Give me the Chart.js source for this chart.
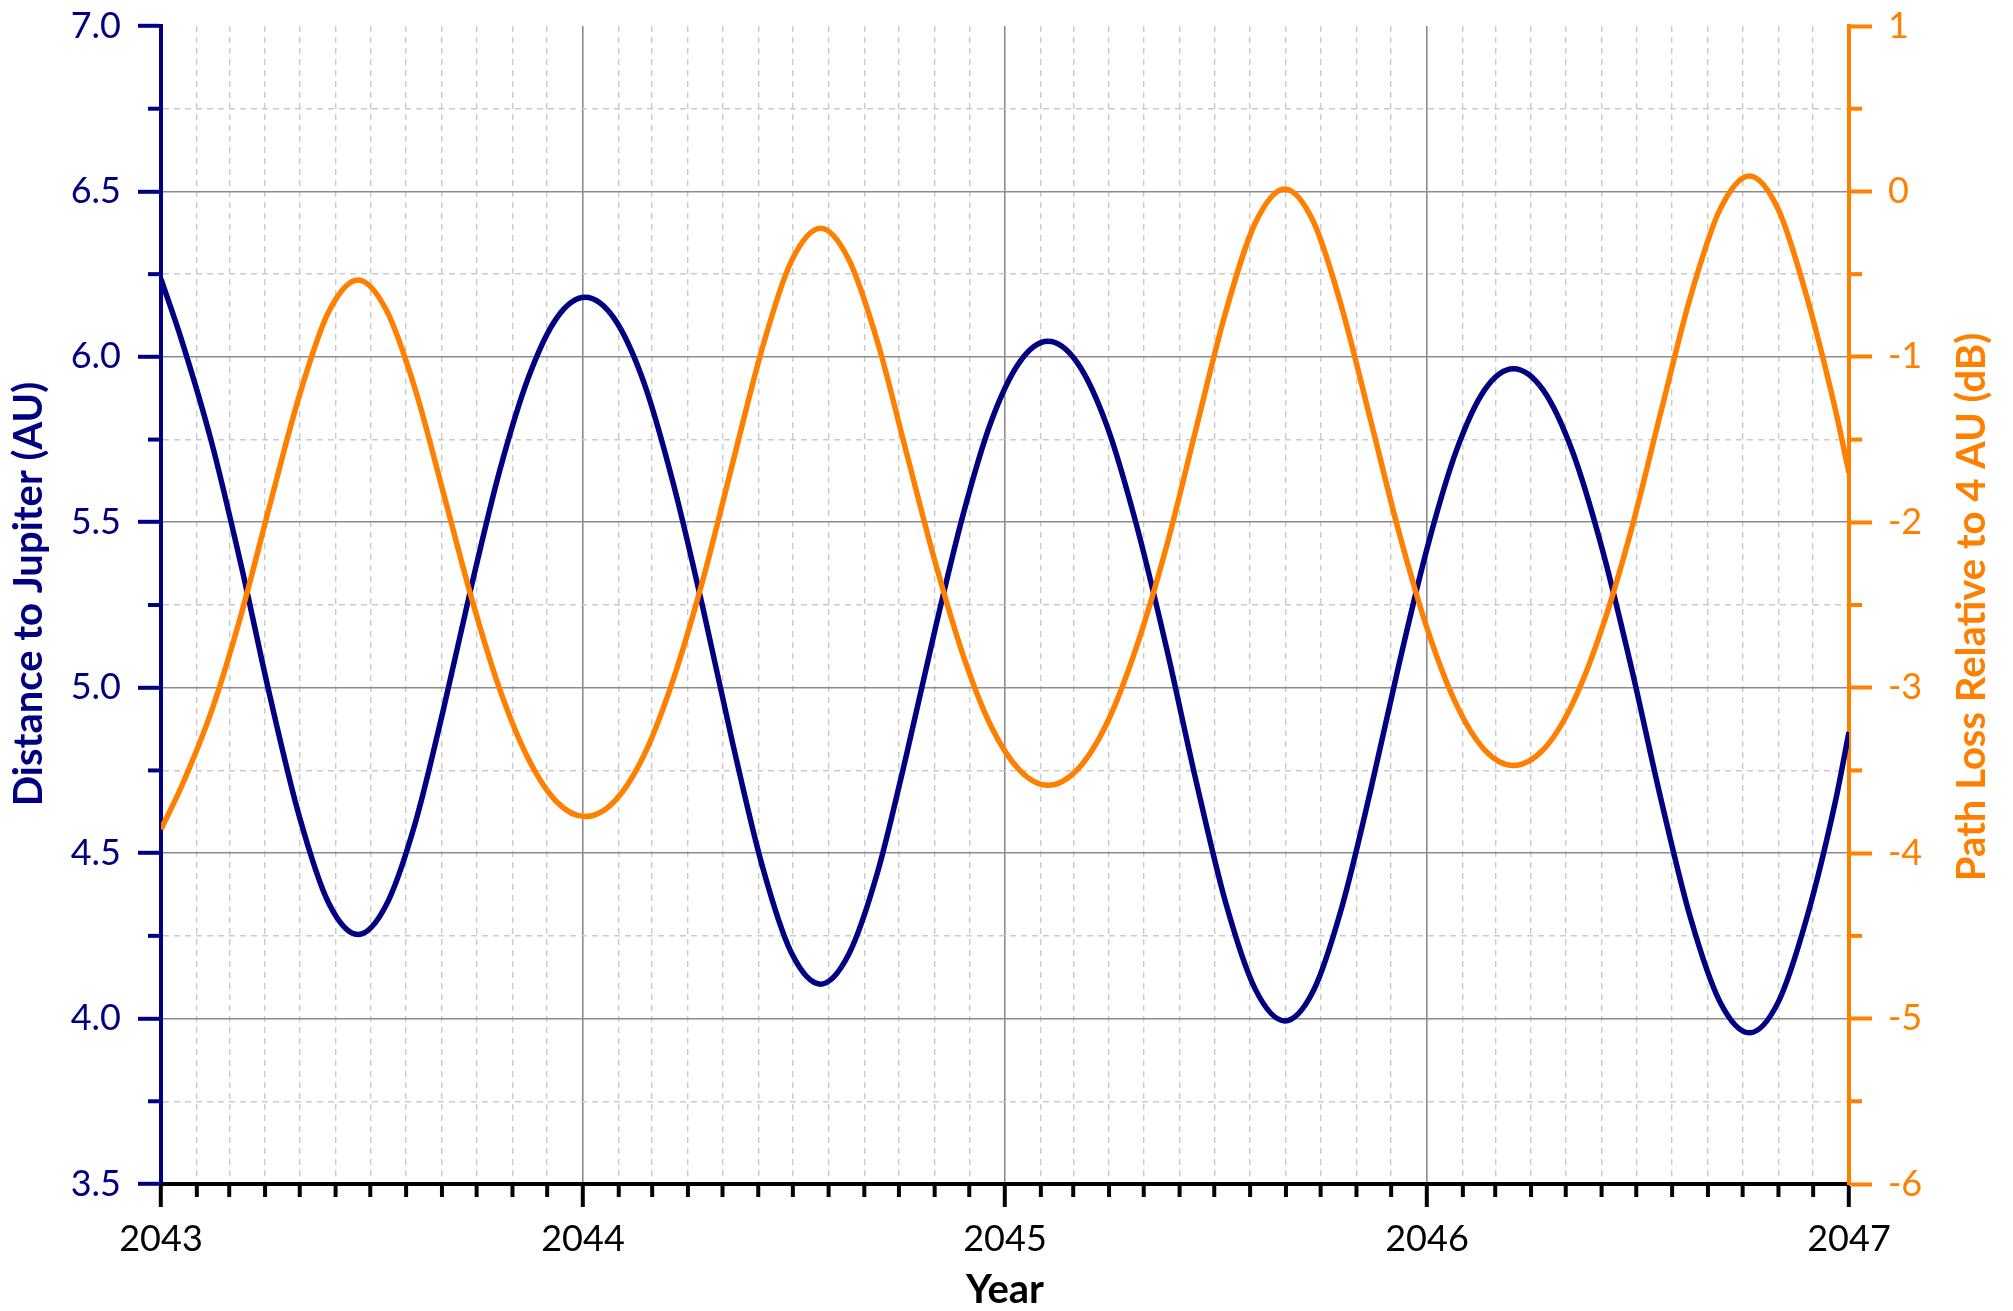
<!DOCTYPE html>
<html>
<head>
<meta charset="utf-8">
<script src="https://cdn.jsdelivr.net/npm/chart.js@4.4.1/dist/chart.umd.min.js"></script>
<style>
html,body{margin:0;padding:0;background:#fff;}
#wrap{width:2013px;height:1311px;}
</style>
</head>
<body>
<div id="wrap"><canvas id="c" width="2013" height="1311"></canvas></div>
<script>
// ---- data ----
const years = [2043.000, 2043.049, 2043.119, 2043.189, 2043.258, 2043.328, 2043.397, 2043.467,
  2043.534, 2043.602, 2043.669, 2043.736, 2043.803, 2043.871, 2043.938, 2044.005,
  2044.075, 2044.145, 2044.214, 2044.284, 2044.354, 2044.424, 2044.493, 2044.563,
  2044.630, 2044.698, 2044.765, 2044.833, 2044.900, 2044.967, 2045.035, 2045.102,
  2045.172, 2045.242, 2045.312, 2045.383, 2045.453, 2045.523, 2045.593, 2045.663,
  2045.731, 2045.798, 2045.866, 2045.934, 2046.002, 2046.070, 2046.137, 2046.205,
  2046.275, 2046.345, 2046.415, 2046.485, 2046.554, 2046.624, 2046.694, 2046.764,
  2046.832, 2046.899, 2046.967, 2047.000];

const distanceAU = [6.235, 6.05, 5.746, 5.375, 4.975, 4.610, 4.350, 4.254,
  4.344, 4.589, 4.933, 5.309, 5.658, 5.939, 6.118, 6.180,
  6.114, 5.920, 5.617, 5.242, 4.836, 4.465, 4.201, 4.104,
  4.195, 4.442, 4.789, 5.169, 5.520, 5.804, 5.985, 6.047,
  5.981, 5.790, 5.490, 5.119, 4.717, 4.350, 4.089, 3.993,
  4.085, 4.336, 4.688, 5.073, 5.430, 5.718, 5.901, 5.964,
  5.900, 5.713, 5.420, 5.057, 4.665, 4.306, 4.051, 3.957,
  4.049, 4.300, 4.652, 4.866];

const pathLossDB = [-3.856, -3.594, -3.146, -2.566, -1.895, -1.233, -0.729, -0.535,
  -0.717, -1.193, -1.821, -2.459, -3.012, -3.433, -3.691, -3.779,
  -3.685, -3.405, -2.949, -2.349, -1.649, -0.955, -0.426, -0.223,
  -0.413, -0.910, -1.564, -2.227, -2.798, -3.233, -3.500, -3.590,
  -3.494, -3.212, -2.750, -2.143, -1.432, -0.729, -0.191, 0.015,
  -0.183, -0.701, -1.379, -2.064, -2.655, -3.104, -3.377, -3.470,
  -3.376, -3.096, -2.639, -2.037, -1.336, -0.640, -0.110, 0.094,
  -0.106, -0.628, -1.312, -1.702];

const xTickLabels = ['2043', '2044', '2045', '2046', '2047'];
const leftTickLabels = ['3.5', '4.0', '4.5', '5.0', '5.5', '6.0', '6.5', '7.0'];
const rightTickLabels = ['-6', '-5', '-4', '-3', '-2', '-1', '0', '1'];
const monthDays = [31, 28, 31, 30, 31, 30, 31, 31, 30, 31, 30, 31];

const NAVY = '#000080';
const ORANGE = '#FF8000';
const FONT = 'Lato, "Open Sans", "DejaVu Sans", sans-serif';
const TRANSP = 'rgba(0,0,0,0)';

const near = (a, b) => Math.abs(a - b) < 1e-6;
const isYear = v => near(v, Math.round(v));
const isHalf = v => near(v * 2, Math.round(v * 2));
const isInt = v => near(v, Math.round(v));

function monthTicks() {
  const t = [];
  for (let y = 2043; y < 2047; y++) {
    const leap = (y % 4 === 0);
    const total = leap ? 366 : 365;
    let d = 0;
    for (let m = 0; m < 12; m++) {
      t.push({ value: y + d / total });
      d += monthDays[m] + (m === 1 && leap ? 1 : 0);
    }
  }
  t.push({ value: 2047 });
  return t;
}
function stepTicks(min, max, step) {
  const t = [];
  const n = Math.round((max - min) / step);
  for (let i = 0; i <= n; i++) t.push({ value: +(min + i * step).toFixed(6) });
  return t;
}

function drawVerticalTitle(ctx, text, color, x, y) {
  ctx.save();
  ctx.fillStyle = color;
  ctx.font = 'bold 40px ' + FONT;
  ctx.textAlign = 'center';
  ctx.textBaseline = 'middle';
  ctx.translate(x, y);
  ctx.rotate(-Math.PI / 2);
  ctx.fillText(text, 0, 0);
  ctx.restore();
}

const minorTickPlugin = {
  id: 'minorTicks',
  afterDraw(chart) {
    const ctx = chart.ctx;
    const sx = chart.scales.x, sy = chart.scales.y, sy2 = chart.scales.y2;
    ctx.save();
    ctx.lineWidth = 4;
    ctx.lineCap = 'butt';
    ctx.strokeStyle = '#000';
    sx.ticks.forEach(t => {
      if (isYear(t.value)) return;
      const x = sx.getPixelForValue(t.value);
      ctx.beginPath(); ctx.moveTo(x, sx.top); ctx.lineTo(x, sx.top + 13); ctx.stroke();
    });
    ctx.strokeStyle = NAVY;
    sy.ticks.forEach(t => {
      if (isHalf(t.value)) return;
      const y = sy.getPixelForValue(t.value);
      ctx.beginPath(); ctx.moveTo(sy.right, y); ctx.lineTo(sy.right - 13, y); ctx.stroke();
    });
    ctx.strokeStyle = ORANGE;
    sy2.ticks.forEach(t => {
      if (isInt(t.value)) return;
      const y = sy2.getPixelForValue(t.value);
      ctx.beginPath(); ctx.moveTo(sy2.left, y); ctx.lineTo(sy2.left + 13, y); ctx.stroke();
    });
    ctx.restore();
    // axis titles (both read bottom to top)
    drawVerticalTitle(ctx, 'Distance to Jupiter (AU)', NAVY, 29, 594);
    drawVerticalTitle(ctx, 'Path Loss Relative to 4 AU (dB)', ORANGE, 1972, 607);
  }
};

new Chart(document.getElementById('c'), {
  type: 'line',
  data: {
    datasets: [
      {
        label: 'Path Loss Relative to 4 AU (dB)',
        data: years.map((x, i) => ({ x: x, y: pathLossDB[i] })),
        yAxisID: 'y2',
        borderColor: ORANGE,
        borderWidth: 5.5,
        pointRadius: 0,
        cubicInterpolationMode: 'monotone',
        fill: false
      },
      {
        label: 'Distance to Jupiter (AU)',
        data: years.map((x, i) => ({ x: x, y: distanceAU[i] })),
        yAxisID: 'y',
        borderColor: NAVY,
        borderWidth: 5.5,
        pointRadius: 0,
        cubicInterpolationMode: 'monotone',
        fill: false
      }
    ]
  },
  options: {
    responsive: false,
    animation: false,
    devicePixelRatio: 1,
    layout: { padding: { top: 26, left: 0, right: 0, bottom: 0 } },
    plugins: { legend: { display: false }, tooltip: { enabled: false } },
    scales: {
      x: {
        type: 'linear', position: 'bottom', min: 2043, max: 2047,
        afterBuildTicks: s => { s.ticks = monthTicks(); },
        afterFit: s => { s.height = 127; s.paddingLeft = 0; s.paddingRight = 0; },
        ticks: {
          autoSkip: false, maxRotation: 0, minRotation: 0, padding: 11, color: '#000',
          font: { family: FONT, size: 36 },
          callback: v => isYear(v) ? xTickLabels[Math.round(v) - 2043] : ''
        },
        grid: {
          color: c => (c.tick && isYear(c.tick.value)) ? '#8c8c8c' : '#cacaca',
          lineWidth: c => (c.tick && isYear(c.tick.value)) ? 1.6 : 1.4,
          tickLength: 23, tickWidth: 4,
          tickColor: c => (c.tick && isYear(c.tick.value)) ? '#000' : TRANSP
        },
        border: {
          display: true, color: '#000', width: 4,
          dash: c => (c.tick && !isYear(c.tick.value)) ? [6, 5] : []
        },
        title: {
          display: true, text: 'Year', color: '#000',
          font: { family: FONT, size: 40, weight: 'bold', lineHeight: 1 },
          padding: { top: 0, bottom: 1 }
        }
      },
      y: {
        type: 'linear', position: 'left', min: 3.5, max: 7,
        afterBuildTicks: s => { s.ticks = stepTicks(3.5, 7, 0.25); },
        afterFit: s => { s.width = 161; s.paddingTop = 0; s.paddingBottom = 0; },
        ticks: {
          autoSkip: false, padding: 17, color: NAVY,
          font: { family: FONT, size: 36 },
          callback: v => isHalf(v) ? leftTickLabels[Math.round((v - 3.5) * 2)] : ''
        },
        grid: {
          color: c => {
            if (!c.tick) return '#8c8c8c';
            if (c.tick.value > 6.99) return TRANSP;
            return isHalf(c.tick.value) ? '#8c8c8c' : '#cacaca';
          },
          lineWidth: c => (c.tick && isHalf(c.tick.value)) ? 1.6 : 1.4,
          tickLength: 23, tickWidth: 4,
          tickColor: c => (c.tick && isHalf(c.tick.value)) ? NAVY : TRANSP
        },
        border: {
          display: true, color: NAVY, width: 4,
          dash: c => (c.tick && !isHalf(c.tick.value)) ? [6, 5] : []
        },
        title: { display: false }
      },
      y2: {
        type: 'linear', position: 'right', min: -6, max: 1,
        afterBuildTicks: s => { s.ticks = stepTicks(-6, 1, 0.5); },
        afterFit: s => { s.width = 164; s.paddingTop = 0; s.paddingBottom = 0; },
        ticks: {
          autoSkip: false, padding: 16, color: ORANGE,
          font: { family: FONT, size: 36 },
          callback: v => isInt(v) ? rightTickLabels[Math.round(v + 6)] : ''
        },
        grid: {
          drawOnChartArea: false,
          tickLength: 23, tickWidth: 4,
          tickColor: c => (c.tick && isInt(c.tick.value)) ? ORANGE : TRANSP
        },
        border: { display: true, color: ORANGE, width: 4 },
        title: { display: false }
      }
    }
  },
  plugins: [minorTickPlugin]
});
</script>
</body>
</html>
